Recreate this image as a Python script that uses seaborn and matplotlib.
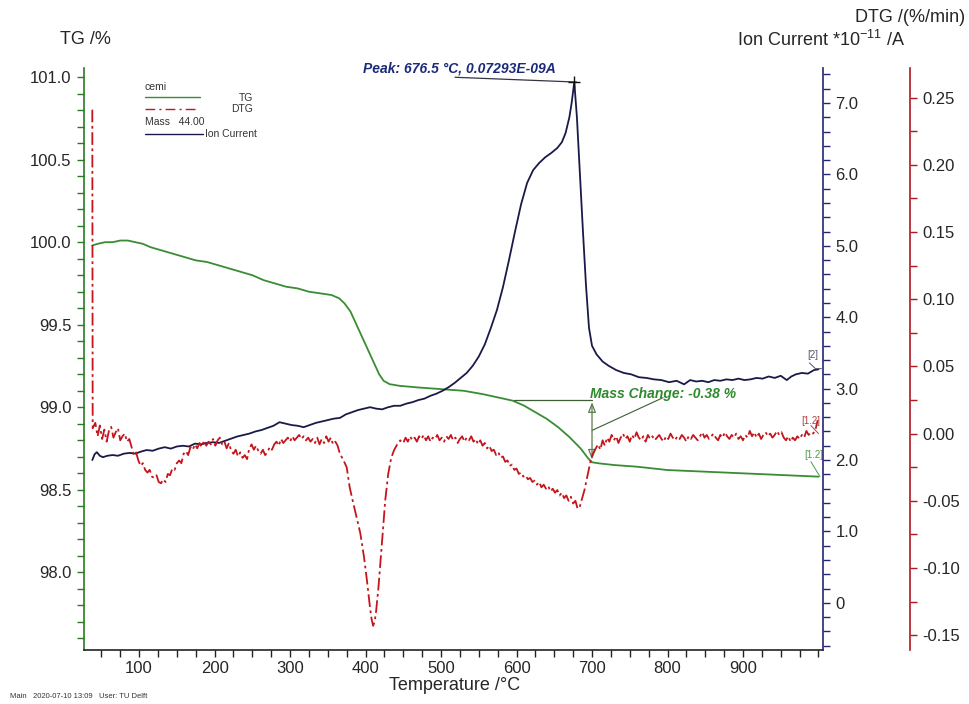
import numpy as np
import pandas as pd
import matplotlib
matplotlib.use("Agg")
import matplotlib.pyplot as plt
from matplotlib.ticker import MultipleLocator, FixedLocator, FuncFormatter
from matplotlib.lines import Line2D
import seaborn as sns

# ---------------- data ----------------
tg_temp = [38, 45, 55, 65, 75, 85, 95, 105, 115, 130, 145, 160, 175, 190, 205, 220,
           235, 250, 265, 280, 295, 310, 325, 340, 355, 365, 372, 380, 388, 396, 404,
           412, 418, 424, 432, 445, 470, 500, 530, 555, 575, 595, 610, 625, 640, 655,
           670, 685, 695, 700, 710, 730, 760, 800, 850, 900, 950, 1000]
tg_value = [99.98, 99.99, 100.00, 100.00, 100.01, 100.01, 100.00, 99.99, 99.97, 99.95,
            99.93, 99.91, 99.89, 99.88, 99.86, 99.84, 99.82, 99.80, 99.77, 99.75, 99.73,
            99.72, 99.70, 99.69, 99.68, 99.66, 99.63, 99.58, 99.50, 99.42, 99.34, 99.26,
            99.20, 99.16, 99.14, 99.13, 99.12, 99.11, 99.10, 99.08, 99.06, 99.04, 99.01,
            98.97, 98.93, 98.88, 98.82, 98.75, 98.69, 98.667, 98.66, 98.65, 98.64, 98.62,
            98.61, 98.60, 98.59, 98.58]

ion_temp = [38, 41, 44, 48, 52, 58, 65, 72, 80, 88, 95, 103, 110, 118, 126, 134, 142,
            150, 158, 166, 174, 182, 190, 198, 206, 214, 222, 230, 238, 246, 254, 262,
            270, 278, 286, 294, 302, 310, 318, 326, 334, 342, 350, 358, 366, 374, 382,
            390, 398, 406, 414, 422, 430, 438, 446, 454, 462, 470, 478, 486, 494, 502,
            510, 518, 526, 534, 542, 550, 558, 566, 574, 582, 590, 598, 606, 614, 622,
            630, 638, 646, 654, 660, 665, 670, 673, 676.5, 680, 684, 688, 692, 696, 700,
            706, 714, 722, 732, 742, 752, 762, 772, 782, 792, 802, 812, 822, 830, 838,
            846, 854, 862, 870, 878, 886, 894, 902, 910, 918, 926, 934, 942, 950, 958,
            964, 970, 978, 986, 994, 1000]
ion_value = [2.00, 2.08, 2.11, 2.06, 2.04, 2.06, 2.07, 2.06, 2.09, 2.10, 2.09, 2.12,
             2.14, 2.13, 2.16, 2.18, 2.16, 2.19, 2.20, 2.19, 2.23, 2.22, 2.24, 2.25,
             2.24, 2.27, 2.30, 2.33, 2.35, 2.37, 2.40, 2.42, 2.45, 2.48, 2.53, 2.51,
             2.49, 2.48, 2.46, 2.49, 2.52, 2.54, 2.56, 2.58, 2.59, 2.64, 2.67, 2.70,
             2.72, 2.74, 2.72, 2.71, 2.74, 2.76, 2.76, 2.79, 2.81, 2.84, 2.86, 2.90,
             2.93, 2.97, 3.02, 3.08, 3.15, 3.22, 3.32, 3.45, 3.62, 3.85, 4.10, 4.42,
             4.80, 5.20, 5.58, 5.88, 6.06, 6.16, 6.24, 6.30, 6.37, 6.45, 6.58, 6.80,
             7.00, 7.293, 6.80, 6.00, 5.20, 4.45, 3.85, 3.60, 3.48, 3.38, 3.32, 3.26,
             3.22, 3.20, 3.16, 3.15, 3.13, 3.12, 3.09, 3.11, 3.06, 3.12, 3.10, 3.11,
             3.09, 3.12, 3.11, 3.13, 3.12, 3.14, 3.12, 3.13, 3.15, 3.14, 3.17, 3.15,
             3.18, 3.12, 3.17, 3.20, 3.22, 3.21, 3.26, 3.27]

dtg_temp = [38, 38.5, 42, 45, 48, 51, 54, 57, 60, 63, 66, 69, 72, 75, 78, 81, 84, 87,
            90, 93, 96, 99, 102, 105, 108, 111, 114, 117, 120, 123, 126, 129, 132, 135,
            138, 141, 144, 147, 150, 153, 156, 159, 162, 165, 168, 171, 174, 177, 180,
            183, 186, 189, 192, 195, 198, 201, 204, 207, 210, 213, 216, 219, 222, 225,
            228, 231, 234, 237, 240, 243, 246, 249, 252, 255, 258, 261, 264, 267, 270,
            273, 276, 279, 282, 285, 288, 291, 294, 297, 300, 303, 306, 309, 312, 315,
            318, 321, 324, 327, 330, 333, 336, 339, 342, 345, 348, 351, 354, 357, 360,
            363, 366, 370, 375, 379, 383, 388, 393, 398, 402, 406, 408, 410, 412, 414,
            417, 420, 423, 426, 430, 434, 438, 442, 446, 450, 453, 456, 459, 462, 465,
            468, 471, 474, 477, 480, 483, 486, 489, 492, 495, 498, 501, 504, 507, 510,
            513, 516, 519, 522, 525, 528, 531, 534, 537, 540, 543, 546, 549, 552, 555,
            558, 561, 564, 567, 570, 573, 576, 579, 582, 585, 588, 591, 594, 597, 600,
            603, 606, 609, 612, 615, 618, 621, 624, 627, 630, 633, 636, 639, 642, 645,
            648, 651, 654, 657, 660, 663, 666, 669, 672, 675, 678, 681, 684, 687, 690,
            693, 696, 699, 702, 705, 708, 711, 714, 717, 720, 723, 726, 729, 732, 735,
            738, 741, 744, 747, 750, 753, 756, 759, 762, 765, 768, 771, 774, 777, 780,
            783, 786, 789, 792, 795, 798, 801, 804, 807, 810, 813, 816, 819, 822, 825,
            828, 831, 834, 837, 840, 843, 846, 849, 852, 855, 858, 861, 864, 867, 870,
            873, 876, 879, 882, 885, 888, 891, 894, 897, 900, 903, 906, 909, 912, 915,
            918, 921, 924, 927, 930, 933, 936, 939, 942, 945, 948, 951, 954, 957, 960,
            963, 966, 969, 972, 975, 978, 981, 984, 987, 990, 993, 996, 999]
dtg_value = [0.241, 0.004, 0.008, -0.002, 0.006, -0.004, 0.003, -0.006, 0.002, 0.005,
             -0.003, 0.001, 0.004, -0.005, -0.002, 0.000, -0.006, -0.004, -0.010, -0.016,
             -0.014, -0.020, -0.024, -0.022, -0.027, -0.029, -0.027, -0.032, -0.033, -0.031,
             -0.036, -0.037, -0.034, -0.036, -0.030, -0.031, -0.026, -0.027, -0.022, -0.020,
             -0.022, -0.015, -0.013, -0.016, -0.010, -0.012, -0.008, -0.011, -0.007, -0.010,
             -0.005, -0.009, -0.006, -0.008, -0.004, -0.009, -0.005, -0.003, -0.008, -0.006,
             -0.011, -0.007, -0.013, -0.015, -0.012, -0.017, -0.014, -0.018, -0.016, -0.019,
             -0.011, -0.008, -0.012, -0.009, -0.013, -0.015, -0.012, -0.016, -0.014, -0.010,
             -0.012, -0.008, -0.006, -0.009, -0.004, -0.007, -0.005, -0.003, -0.006, -0.002,
             -0.005, -0.003, -0.001, -0.004, -0.002, -0.005, -0.003, -0.006, -0.004, -0.007,
             -0.003, -0.008, -0.004, -0.007, -0.002, -0.006, -0.003, -0.008, -0.006, -0.009,
             -0.015, -0.019, -0.025, -0.040, -0.050, -0.062, -0.074, -0.092, -0.110, -0.130,
             -0.138, -0.143, -0.140, -0.132, -0.115, -0.094, -0.072, -0.050, -0.030, -0.018,
             -0.012, -0.008, -0.005, -0.007, -0.003, -0.006, -0.002, -0.005, -0.003, -0.006,
             -0.002, -0.004, -0.001, -0.005, -0.002, -0.006, -0.003, -0.004, -0.001, -0.005,
             -0.003, -0.006, -0.002, -0.004, -0.001, -0.005, -0.003, -0.007, -0.004, -0.002,
             -0.006, -0.003, -0.005, -0.002, -0.006, -0.004, -0.008, -0.005, -0.009, -0.007,
             -0.011, -0.009, -0.013, -0.012, -0.016, -0.014, -0.018, -0.017, -0.021, -0.020,
             -0.024, -0.023, -0.027, -0.026, -0.030, -0.029, -0.032, -0.031, -0.034, -0.033,
             -0.036, -0.035, -0.038, -0.036, -0.040, -0.038, -0.041, -0.039, -0.043, -0.041,
             -0.044, -0.042, -0.046, -0.044, -0.048, -0.046, -0.050, -0.047, -0.052, -0.050,
             -0.056, -0.054, -0.048, -0.042, -0.034, -0.026, -0.018, -0.014, -0.011, -0.008,
             -0.012, -0.005, -0.009, -0.003, -0.006, -0.001, -0.005, -0.002, -0.007, -0.003,
             0.000, -0.004, -0.002, -0.006, -0.001, -0.004, 0.001, -0.003, -0.005, -0.002,
             -0.006, -0.001, -0.004, -0.002, -0.005, -0.003, -0.001, -0.004, -0.006, -0.002,
             -0.004, 0.000, -0.003, -0.005, -0.002, -0.004, -0.001, -0.003, -0.006, -0.002,
             -0.004, -0.001, -0.003, -0.005, -0.002, 0.001, -0.003, -0.001, -0.004, -0.002,
             0.000, -0.003, -0.005, -0.001, -0.003, 0.001, -0.002, -0.004, -0.001, -0.003,
             0.000, -0.004, -0.002, -0.005, -0.001, -0.003, 0.002, -0.002, 0.001, -0.003,
             0.000, -0.004, -0.001, 0.001, -0.002, 0.000, -0.003, -0.001, 0.002, -0.001,
             0.001, -0.003, -0.005, -0.002, -0.006, -0.003, -0.005, -0.002, -0.004, -0.001,
             -0.003, 0.002, -0.001, 0.001, 0.000, 0.003, 0.010]

peak_temp = 676.5
peak_ion = 7.293
mass_change = -0.38
step_start, step_end = 597, 700

x_major = [100, 200, 300, 400, 500, 600, 700, 800, 900]

# ---------------- style ----------------
sns.set_theme(style="white")
plt.rcParams["font.family"] = ["Liberation Sans", "DejaVu Sans"]
plt.rcParams["mathtext.fontset"] = "custom"
plt.rcParams["mathtext.rm"] = "Liberation Sans"
plt.rcParams["axes.unicode_minus"] = False

GREEN_LINE = "#3a8c34"
GREEN_AX = "#2a7a22"
NAVY_LINE = "#1a1a4a"
NAVY_AX = "#262672"
RED_LINE = "#c3161c"
RED_AX = "#b0181c"

fig = plt.figure(figsize=(9.7, 7.04), dpi=100)
ax = fig.add_axes([84 / 970, 54 / 704, 739 / 970, 582 / 704])
ax_ion = ax.twinx()
ax_dtg = ax.twinx()

tg_df = pd.DataFrame({"T": tg_temp, "TG": tg_value})
ion_df = pd.DataFrame({"T": ion_temp, "Ion": ion_value})
dtg_df = pd.DataFrame({"T": dtg_temp, "DTG": dtg_value})

sns.lineplot(data=tg_df, x="T", y="TG", ax=ax, color=GREEN_LINE, linewidth=1.3,
             sort=False, estimator=None)
sns.lineplot(data=dtg_df, x="T", y="DTG", ax=ax_dtg, color=RED_LINE, linewidth=1.3,
             sort=False, estimator=None, linestyle=(0, (7, 2, 1.5, 2)))
sns.lineplot(data=ion_df, x="T", y="Ion", ax=ax_ion, color=NAVY_LINE, linewidth=1.3,
             sort=False, estimator=None)

# ---------------- axes ----------------
ax.set_xlim(27, 1006)
ax.set_ylim(97.53, 101.055)
ax_ion.set_ylim(-0.66, 7.49)
ax_dtg.set_ylim(-0.161, 0.272)

for a in (ax, ax_ion, ax_dtg):
    a.set_xlabel("")
    a.set_ylabel("")
    a.spines["top"].set_visible(False)

ax.spines["right"].set_visible(False)
ax.spines["left"].set_color(GREEN_AX)
ax.spines["bottom"].set_color("#222222")
for s in ("left", "bottom"):
    ax.spines[s].set_linewidth(1.2)

ax_ion.spines["left"].set_visible(False)
ax_ion.spines["bottom"].set_visible(False)
ax_ion.spines["right"].set_color(NAVY_AX)
ax_ion.spines["right"].set_linewidth(1.2)

ax_dtg.spines["left"].set_visible(False)
ax_dtg.spines["bottom"].set_visible(False)
ax_dtg.spines["right"].set_position(("axes", 1.118))
ax_dtg.spines["right"].set_color(RED_AX)
ax_dtg.spines["right"].set_linewidth(1.2)

ax.xaxis.set_major_locator(FixedLocator(x_major))
ax.xaxis.set_minor_locator(MultipleLocator(25))
ax.set_xticklabels([str(v) for v in x_major])
ax.tick_params(axis="x", which="both", direction="out", length=5, width=1,
               color="#222222", labelsize=12, pad=3, bottom=True)

ax.yaxis.set_major_locator(MultipleLocator(0.5))
ax.yaxis.set_minor_locator(MultipleLocator(0.1))
ax.yaxis.set_major_formatter(FuncFormatter(lambda v, p: f"{v:.1f}"))
ax.tick_params(axis="y", which="both", direction="out", length=5, width=1,
               color=GREEN_AX, labelsize=12, left=True, pad=4)

ax_ion.yaxis.set_major_locator(MultipleLocator(1.0))
ax_ion.yaxis.set_minor_locator(MultipleLocator(0.2))
ax_ion.yaxis.set_major_formatter(FuncFormatter(lambda v, p: "0" if abs(v) < 1e-9 else f"{v:.1f}"))
ax_ion.tick_params(axis="y", which="both", direction="out", length=5, width=1,
                   color=NAVY_AX, labelsize=12, right=True, pad=4)

ax_dtg.yaxis.set_major_locator(MultipleLocator(0.05))
ax_dtg.yaxis.set_minor_locator(MultipleLocator(0.025))
ax_dtg.yaxis.set_major_formatter(FuncFormatter(lambda v, p: f"{v:.2f}".replace("-0.00", "0.00")))
ax_dtg.tick_params(axis="y", which="both", direction="out", length=5, width=1,
                   color=RED_AX, labelsize=12, right=True, pad=4)

for a in (ax, ax_ion, ax_dtg):
    a.grid(False)

# ---------------- titles ----------------
fig.text(85 / 970, 1 - 40 / 704, "TG /%", ha="center", va="center", fontsize=13)
fig.text(965 / 970, 1 - 18 / 704, "DTG /(%/min)", ha="right", va="center", fontsize=13)
fig.text(905 / 970, 1 - 40 / 704, r"Ion Current *10$^{\mathregular{-11}}$ /A",
         ha="right", va="center", fontsize=13)
fig.text(455 / 970, 1 - 686 / 704, "Temperature /°C", ha="center", va="center", fontsize=13)
fig.text(10 / 970, 1 - 697 / 704, "Main   2020-07-10 13:09   User: TU Delft",
         ha="left", va="center", fontsize=5.5, color="#333333")

# ---------------- legend block ----------------
lg = dict(transform=ax.transAxes, fontsize=7.5, color="#333333", va="center")
ax.text(0.0825, 0.967, "cemi", ha="left", **lg)
ax.add_line(Line2D([0.0825, 0.157], [0.950, 0.950], transform=ax.transAxes,
                   color=GREEN_LINE, lw=1.0))
ax.text(0.229, 0.948, "TG", ha="right", **lg)
ax.add_line(Line2D([0.0825, 0.152], [0.930, 0.930], transform=ax.transAxes,
                   color=RED_LINE, lw=1.0, linestyle=(0, (7, 3, 1.5, 3))))
ax.text(0.229, 0.930, "DTG", ha="right", **lg)
ax.text(0.0825, 0.908, "Mass   44.00", ha="left", **lg)
ax.add_line(Line2D([0.0825, 0.161], [0.887, 0.887], transform=ax.transAxes,
                   color=NAVY_LINE, lw=1.0))
ax.text(0.164, 0.887, "Ion Current", ha="left", **lg)

# ---------------- peak annotation ----------------
ax_ion.plot([518.5, peak_temp + 3], [7.36, peak_ion], color="#333344", lw=0.9, clip_on=False)
ax_ion.plot([peak_temp], [peak_ion], marker="+", color="#111111", markersize=9,
            markeredgewidth=1.0, clip_on=False)
ax_ion.text(397, 7.48, f"Peak: {peak_temp} °C, 0.0{int(round(peak_ion * 1000))}E-09A",
            color="#1c2a7a", fontsize=10, fontweight="bold", fontstyle="italic",
            ha="left", va="center", clip_on=False)

# ---------------- mass change annotation ----------------
tg_end = float(np.interp(step_end, tg_temp, tg_value))
tg_top = tg_end - mass_change
ax.plot([step_start, step_end], [tg_top, tg_top], color="#3d5e35", lw=0.9)
ax.annotate("", xy=(step_end, tg_end), xytext=(step_end, tg_top),
            arrowprops=dict(arrowstyle="<|-|>,head_length=0.5,head_width=0.2",
                            color="#5a7a50", lw=0.9, fill=False))
ax.plot([794, step_end], [99.058, 98.86], color="#3d5e35", lw=0.8)
ax.text(697, 99.08, f"Mass Change: {mass_change:.2f} %", color="#2d8a2d",
        fontsize=10, fontweight="bold", fontstyle="italic", ha="left", va="center")

# ---------------- curve end tags ----------------
ax_ion.text(993, 3.40, "[2]", color="#555570", fontsize=7, ha="center", va="bottom")
ax_ion.plot([988, 996, 1004], [3.36, 3.28, 3.28], color="#555570", lw=0.7)
ax_dtg.text(990, 0.006, "[1.2]", color="#b04040", fontsize=7, ha="center", va="bottom")
ax_dtg.plot([990, 1000], [0.006, 0.0], color="#b04040", lw=0.7)
ax.text(994, 98.68, "[1.2]", color="#4a9a4a", fontsize=7, ha="center", va="bottom")
ax.plot([990, 1002], [98.67, 98.58], color="#4a9a4a", lw=0.7)

fig.savefig("out.png", dpi=100, facecolor="white")
